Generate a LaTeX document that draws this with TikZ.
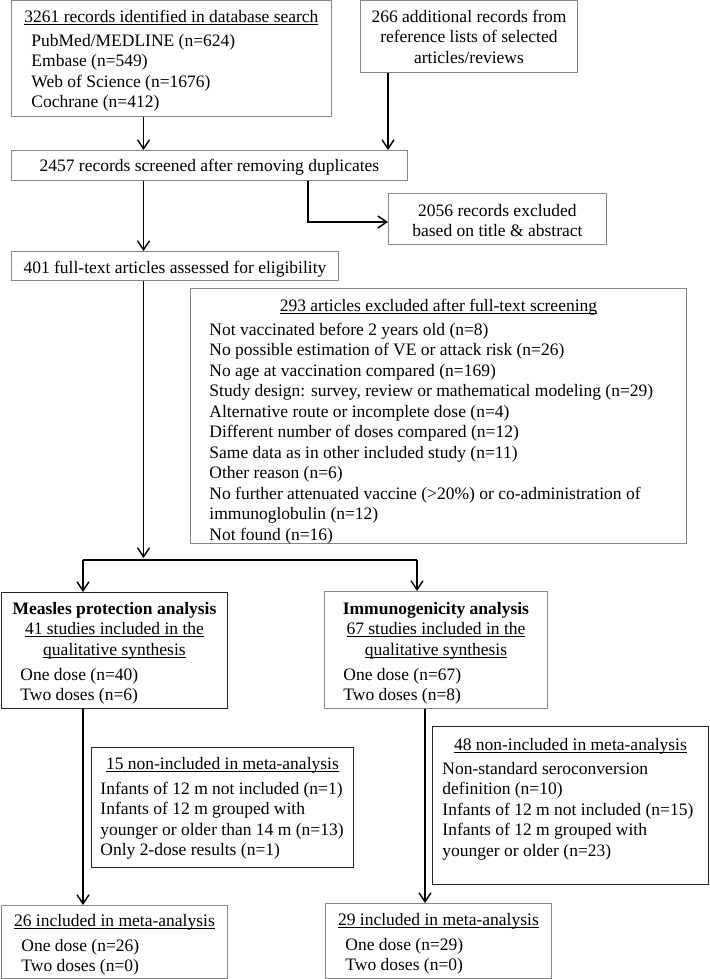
\documentclass[tikz,border=0pt]{standalone}
\usepackage{fontspec}
\setmainfont{Liberation Serif}
\usetikzlibrary{arrows.meta}
\definecolor{boxgray}{gray}{0.52}
\definecolor{boxdark}{gray}{0.15}
\newlength\myindent
\newcommand\myul[1]{\leavevmode\setbox0\hbox{#1}\rlap{\rule[-2.2pt]{\wd0}{0.8pt}}\box0}
\newcommand\myctr[1]{\par{\centering\leavevmode\strut#1\par}}
\newcommand\myitm[1]{\par{\leftskip=\myindent\relax\noindent\strut#1\par}}
\newcommand\mybx[4]{\begin{minipage}[t][#2][t]{#1}\parskip=0pt\relax\vspace*{#3}#4\end{minipage}}
\tikzset{
  box/.style={draw=boxgray, line width=0.9pt, inner sep=0pt, anchor=north west,
    font=\fontsize{17.5pt}{20.5pt}\selectfont},
  darkbox/.style={box, draw=boxdark},
  arr/.style={draw=black, line width=1.4pt, -{Straight Barb[length=9pt,width=12pt]}},
  ln/.style={draw=black, line width=1.4pt}
}
\begin{document}
\begin{tikzpicture}[x=1pt,y=1pt]
\useasboundingbox (0,0) rectangle (709,-979);

\node[box] (A) at (11,0) {\mybx{320pt}{116pt}{7.5pt}{%
  \myctr{\myul{3261 records identified in database search}}\vspace{3.5pt}%
  \setlength\myindent{20pt}%
  \myitm{PubMed/MEDLINE (n=624)}\myitm{Embase (n=549)}%
  \myitm{Web of Science (n=1676)}\myitm{Cochrane (n=412)}}};

\node[box] (B) at (360,0) {\mybx{217pt}{72pt}{7.5pt}{%
  \myctr{266 additional records from}\myctr{reference lists of selected}%
  \myctr{articles/reviews}}};

\node[box] (C) at (11,-150) {\mybx{396pt}{30pt}{6.5pt}{%
  \myctr{2457 records screened after removing duplicates}}};

\node[box] (D) at (388,-193) {\mybx{218pt}{51pt}{8.5pt}{%
  \myctr{2056 records excluded}\myctr{based on title \& abstract}}};

\node[box] (E) at (11,-251) {\mybx{327pt}{29pt}{7.5pt}{%
  \myctr{401 full-text articles assessed for eligibility}}};

\node[box] (F) at (190,-288) {\mybx{496pt}{255pt}{8.5pt}{%
  \myctr{\myul{293 articles excluded after full-text screening}}\vspace{3.5pt}%
  \setlength\myindent{19pt}%
  \myitm{Not vaccinated before 2 years old (n=8)}%
  \myitm{No possible estimation of VE or attack risk (n=26)}%
  \myitm{No age at vaccination compared (n=169)}%
  \myitm{Study design: survey, review or mathematical modeling (n=29)}%
  \myitm{Alternative route or incomplete dose (n=4)}%
  \myitm{Different number of doses compared (n=12)}%
  \myitm{Same data as in other included study (n=11)}%
  \myitm{Other reason (n=6)}%
  \myitm{No further attenuated vaccine (>20\%) or co-administration of}%
  \myitm{immunoglobulin (n=12)}%
  \myitm{Not found (n=16)}}};

\node[darkbox] (G) at (1,-592) {\mybx{226pt}{116pt}{7.5pt}{%
  \myctr{\textbf{Measles protection analysis}}%
  \myctr{\myul{41 studies included in the}}\myctr{\myul{qualitative synthesis}}\vspace{4.5pt}%
  \setlength\myindent{19pt}%
  \myitm{One dose (n=40)}\myitm{Two doses (n=6)}}};

\node[box] (H) at (324,-591) {\mybx{223pt}{117pt}{8.5pt}{%
  \myctr{\textbf{Immunogenicity analysis}}%
  \myctr{\myul{67 studies included in the}}\myctr{\myul{qualitative synthesis}}\vspace{4.5pt}%
  \setlength\myindent{19pt}%
  \myitm{One dose (n=67)}\myitm{Two doses (n=8)}}};

\node[darkbox] (I) at (91,-747) {\mybx{262pt}{120pt}{7.5pt}{%
  \myctr{\myul{15 non-included in meta-analysis}}\vspace{4.5pt}%
  \setlength\myindent{9pt}%
  \myitm{Infants of 12 m not included (n=1)}%
  \myitm{Infants of 12 m grouped with}%
  \myitm{younger or older than 14 m (n=13)}%
  \myitm{Only 2-dose results (n=1)}}};

\node[darkbox] (J) at (432,-726) {\mybx{276pt}{158pt}{9.5pt}{%
  \myctr{\myul{48 non-included in meta-analysis}}\vspace{3.5pt}%
  \setlength\myindent{10pt}%
  \myitm{Non-standard seroconversion}%
  \myitm{definition (n=10)}%
  \myitm{Infants of 12 m not included (n=15)}%
  \myitm{Infants of 12 m grouped with}%
  \myitm{younger or older (n=23)}}};

\node[box] (K) at (1,-905) {\mybx{226pt}{73pt}{6.5pt}{%
  \myctr{\myul{26 included in meta-analysis}}\vspace{4.5pt}%
  \setlength\myindent{20pt}%
  \myitm{One dose (n=26)}\myitm{Two doses (n=0)}}};

\node[box] (L) at (325,-903) {\mybx{226pt}{75pt}{7.5pt}{%
  \myctr{\myul{29 included in meta-analysis}}\vspace{4.5pt}%
  \setlength\myindent{20pt}%
  \myitm{One dose (n=29)}\myitm{Two doses (n=0)}}};

% connector guide coordinates
\coordinate (xa) at (143.5,0);
\coordinate (xb) at (388,0);
\coordinate (xc) at (308,0);
\coordinate (xg) at (83,0);
\coordinate (xh) at (417,0);
\coordinate (xl) at (425,0);
\coordinate (br) at (143.5,-560);
\coordinate (dto) at (388,-222);

\draw[arr] (A.south -| xa) -- (C.north -| xa);
\draw[arr] (B.south -| xb) -- (C.north -| xb);
\draw[arr] (C.south -| xc) |- (dto);
\draw[arr] (C.south -| xa) -- (E.north -| xa);
\draw[arr, shorten >=2pt] (E.south -| xa) -- (br);
\draw[ln] (br -| xg) -- (br -| xh);
\draw[arr] (br -| xg) -- (G.north -| xg);
\draw[arr] (br -| xh) -- (H.north -| xh);
\draw[arr] (G.south -| xg) -- (K.north -| xg);
\draw[arr] (H.south -| xl) -- (L.north -| xl);
\end{tikzpicture}
\end{document}
